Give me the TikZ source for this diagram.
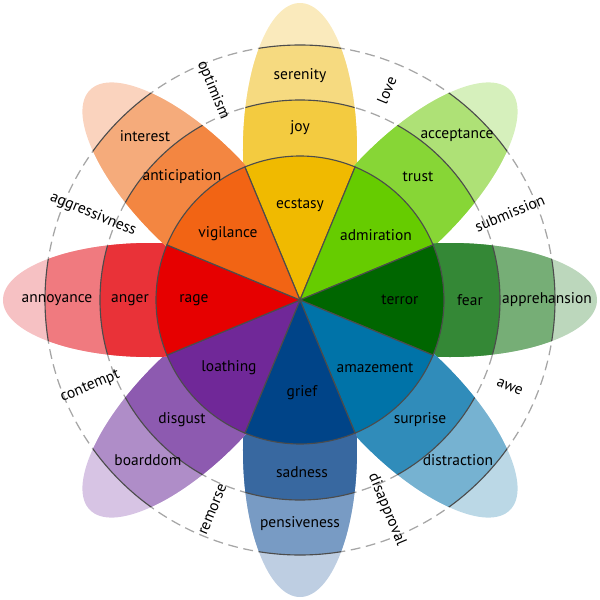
\documentclass[tikz,border=0pt]{standalone}
\usepackage{fontspec}
\setmainfont{PT Sans}
% four shades per petal: inner sector, middle band, outer band, tip
\definecolor{ylw1}{RGB}{240,186,0}
\definecolor{ylw2}{RGB}{243,203,64}
\definecolor{ylw3}{RGB}{246,218,128}
\definecolor{ylw4}{RGB}{250,234,188}
\definecolor{lgn1}{RGB}{102,204,0}
\definecolor{lgn2}{RGB}{135,214,54}
\definecolor{lgn3}{RGB}{174,225,118}
\definecolor{lgn4}{RGB}{214,240,188}
\definecolor{dgn1}{RGB}{0,102,0}
\definecolor{dgn2}{RGB}{52,136,54}
\definecolor{dgn3}{RGB}{118,174,118}
\definecolor{dgn4}{RGB}{188,215,188}
\definecolor{blu1}{RGB}{0,115,168}
\definecolor{blu2}{RGB}{48,140,186}
\definecolor{blu3}{RGB}{118,178,209}
\definecolor{blu4}{RGB}{187,216,230}
\definecolor{dbu1}{RGB}{0,68,136}
\definecolor{dbu2}{RGB}{56,104,160}
\definecolor{dbu3}{RGB}{120,155,196}
\definecolor{dbu4}{RGB}{190,206,226}
\definecolor{prp1}{RGB}{112,40,152}
\definecolor{prp2}{RGB}{141,90,176}
\definecolor{prp3}{RGB}{175,141,200}
\definecolor{prp4}{RGB}{215,196,228}
\definecolor{red1}{RGB}{230,0,0}
\definecolor{red2}{RGB}{233,50,56}
\definecolor{red3}{RGB}{240,122,127}
\definecolor{red4}{RGB}{246,193,195}
\definecolor{org1}{RGB}{242,100,20}
\definecolor{org2}{RGB}{243,134,65}
\definecolor{org3}{RGB}{245,171,123}
\definecolor{org4}{RGB}{250,211,190}
\begin{document}
\begin{tikzpicture}[x=0.025cm,y=0.025cm,
    ring/.style={draw=black!70,line width=0.8pt},
    guide/.style={draw=black!35,line width=0.9pt,dash pattern=on 7pt off 4pt},
    word/.style={font=\fontsize{11}{13}\selectfont,text=black,inner sep=1pt}]
  \useasboundingbox (-300,-300) rectangle (300,300);
  % dashed rings seen between the petals
  \draw[guide] (0,0) circle (200);
  \draw[guide] (0,0) circle (255);
  % petals
  \foreach \a/\c in {90/ylw,45/lgn,0/dgn,-45/blu,-90/dbu,-135/prp,180/red,135/org}{
    \begin{scope}[rotate=\a]
      \fill[\c4] (150,0) ellipse (147 and 57);
      \begin{scope}
        \clip (150,0) ellipse (147 and 57);
        \fill[\c3] (0,0) circle (255);
        \fill[\c2] (0,0) circle (200);
        \draw[ring] (0,0) circle (255);
        \draw[ring] (0,0) circle (200);
      \end{scope}
    \end{scope}
  }
  % inner sectors
  \foreach \a/\c in {90/ylw,45/lgn,0/dgn,-45/blu,-90/dbu,-135/prp,180/red,135/org}
    \filldraw[ring,fill=\c1] (0,0) -- ({\a-22.5}:144)
      arc[start angle=\a-22.5, end angle=\a+22.5, radius=144] -- cycle;
  % inner words
  \node[word] (ecstasy) at (0,95) {ecstasy};
  \node[word] (admiration) at (76,65) {admiration};
  \node[word] (terror) at (100,0) {terror};
  \node[word] (amazement) at (75,-68) {amazement};
  \node[word] (grief) at (2,-93) {grief};
  \node[word] (loathing) at (-71,-68) {loathing};
  \node[word] (rage) at (-106,0) {rage};
  \node[word] (vigilance) at (-72,66) {vigilance};
  % middle words
  \node[word] (joy) at (0,172) {joy};
  \node[word] (trust) at (118,123) {trust};
  \node[word] (fear) at (170,0) {fear};
  \node[word] (surprise) at (120,-120) {surprise};
  \node[word] (sadness) at (2,-172) {sadness};
  \node[word] (disgust) at (-118,-120) {disgust};
  \node[word] (anger) at (-170,0) {anger};
  \node[word] (anticipation) at (-118,123) {anticipation};
  % outer words
  \node[word] (serenity) at (0,224) {serenity};
  \node[word] (acceptance) at (157,165) {acceptance};
  \node[word] (apprehansion) at (247,0) {apprehansion};
  \node[word] (distraction) at (158,-160) {distraction};
  \node[word] (pensiveness) at (0,-224) {pensiveness};
  \node[word] (boarddom) at (-152,-160) {boarddom};
  \node[word] (annoyance) at (-243,0) {annoyance};
  \node[word] (interest) at (-155,164) {interest};
  % dyads between the petals
  \node[word,rotate=67.5] (love) at (67.5:227) {love};
  \node[word,rotate=22.5] (submission) at (22.5:227) {submission};
  \node[word,rotate=-22.5] (awe) at (-22.5:227) {awe};
  \node[word,rotate=-67.5] (disapproval) at (-67.5:227) {disapproval};
  \node[word,rotate=67.5] (remorse) at (-112.5:227) {remorse};
  \node[word,rotate=22.5] (contempt) at (-157.5:227) {contempt};
  \node[word,rotate=-22.5] (aggressivness) at (157.5:224) {aggressivness};
  \node[word,rotate=-67.5] (optimism) at (112.5:227) {optimism};
\end{tikzpicture}
\end{document}
